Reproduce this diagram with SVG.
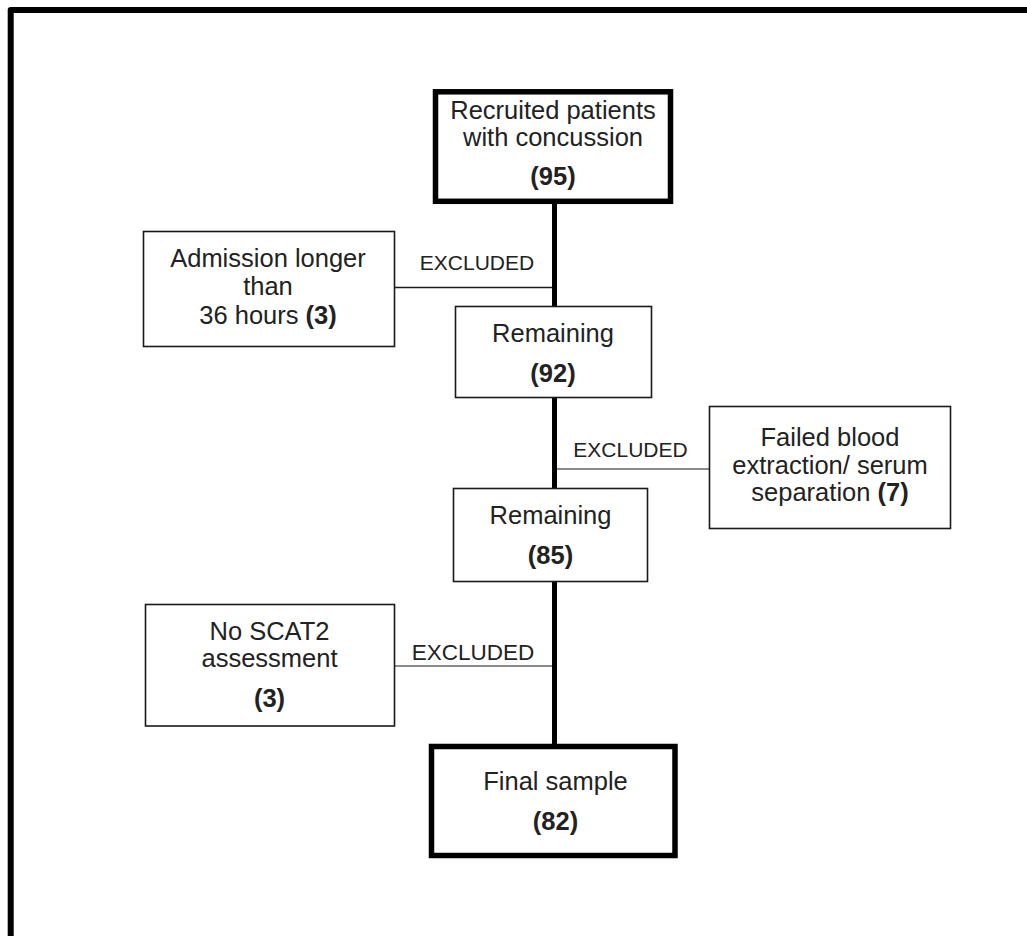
<svg xmlns="http://www.w3.org/2000/svg" width="1027" height="936" viewBox="0 0 1027 936">
<style>
  .t { font-family: "Liberation Sans", Arial, sans-serif; font-size: 25.5px; fill: #222222; text-anchor: middle; }
  .b { font-weight: bold; }
  .lbl { font-family: "Liberation Sans", Arial, sans-serif; font-size: 21px; fill: #222222; text-anchor: middle; }
  .thick { fill: #ffffff; stroke: #000000; stroke-width: 5.5; }
  .thin { fill: #ffffff; stroke: #1a1a1a; stroke-width: 1.6; }
  .main { stroke: #000000; stroke-width: 5; fill: none; }
  .grey { stroke: #8a8a8a; stroke-width: 2; fill: none; }
  .blk { stroke: #1a1a1a; stroke-width: 1.6; fill: none; }
</style>
<rect x="0" y="0" width="1027" height="936" fill="#ffffff"/>
<path d="M10.7 945 V10 H1035" fill="none" stroke="#000000" stroke-width="6" stroke-linejoin="round"/>

<g id="connectors">
  <line class="main" x1="554.5" y1="201" x2="554.5" y2="306"/>
  <line class="main" x1="554.5" y1="397" x2="554.5" y2="489"/>
  <line class="main" x1="554.5" y1="581" x2="554.5" y2="747"/>
  <line class="blk" x1="394" y1="287.5" x2="552" y2="287.5"/>
  <line class="grey" x1="557" y1="469" x2="709" y2="469"/>
  <line class="grey" x1="394" y1="666" x2="552" y2="666"/>
  <text class="lbl" x="477" y="270">EXCLUDED</text>
  <text class="lbl" x="630.5" y="456.5">EXCLUDED</text>
  <text class="lbl" x="473" y="660" style="font-size:22.5px">EXCLUDED</text>
</g>

<g id="recruited">
  <rect class="thick" x="435.5" y="91.8" width="235" height="109.5"/>
  <text class="t" x="553" y="118.5">Recruited patients</text>
  <text class="t" x="553" y="146">with concussion</text>
  <text class="t b" x="553" y="185">(95)</text>
</g>

<g id="admission">
  <rect class="thin" x="143.5" y="231.5" width="251" height="115"/>
  <text class="t" x="268" y="267">Admission longer</text>
  <text class="t" x="268" y="295">than</text>
  <text class="t" x="268" y="323.5">36 hours <tspan class="b">(3)</tspan></text>
</g>

<g id="remaining1">
  <rect class="thin" x="455.5" y="306.5" width="196" height="91"/>
  <text class="t" x="553" y="341.5">Remaining</text>
  <text class="t b" x="553" y="381.5">(92)</text>
</g>

<g id="failed">
  <rect class="thin" x="709.5" y="406.5" width="241" height="122"/>
  <text class="t" x="830" y="446">Failed blood</text>
  <text class="t" x="830" y="474">extraction/ serum</text>
  <text class="t" x="830" y="501">separation <tspan class="b">(7)</tspan></text>
</g>

<g id="remaining2">
  <rect class="thin" x="453.5" y="488.5" width="194" height="93"/>
  <text class="t" x="550.5" y="523.5">Remaining</text>
  <text class="t b" x="550.5" y="563.5">(85)</text>
</g>

<g id="noscat">
  <rect class="thin" x="145.5" y="604.5" width="249" height="121.5"/>
  <text class="t" x="269.5" y="640">No SCAT2</text>
  <text class="t" x="269.5" y="667">assessment</text>
  <text class="t b" x="269.5" y="706.5">(3)</text>
</g>

<g id="final">
  <rect class="thick" x="431.5" y="746.5" width="243.5" height="109"/>
  <text class="t" x="555.5" y="790">Final sample</text>
  <text class="t b" x="555.5" y="830">(82)</text>
</g>
</svg>
